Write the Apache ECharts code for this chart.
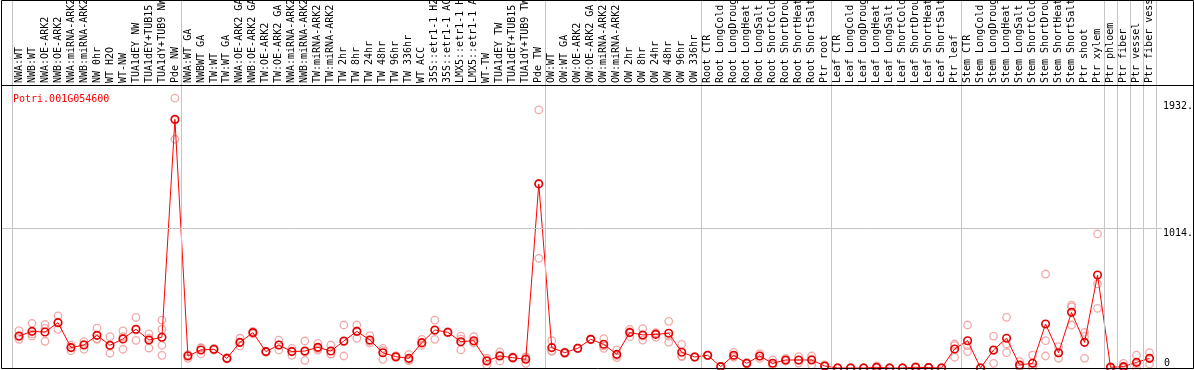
<!DOCTYPE html>
<html>
<head>
<meta charset="utf-8">
<script src="https://cdn.jsdelivr.net/npm/echarts@6/dist/echarts.min.js"></script>
<style>html,body{margin:0;padding:0;background:#fff}#c{width:1194px;height:370px}</style>
</head>
<body>
<div id="c"></div>
<script>
const geneName = 'Potri.001G054600';

const categories = [
'NWA:WT','NWB:WT','NWA:OE-ARK2','NWB:OE-ARK2','NWA:miRNA-ARK2','NWB:miRNA-ARK2','NW 0hr','WT H2O','WT-NW','TUA1dEY NW','TUA1dEY+TUB15','TUA1dY+TUB9 NW','Pde NW',
'NWA:WT GA','NWBWT GA','TW:WT','TW:WT GA','NWA:OE-ARK2 GA','NWB:OE-ARK2 GA','TW:OE-ARK2','TW:OE-ARK2 GA','NWA:miRNA-ARK2','NWB:miRNA-ARK2','TW:miRNA-ARK2','TW:miRNA-ARK2','TW 2hr','TW 8hr','TW 24hr','TW 48hr','TW 96hr','TW 336hr','WT ACC','35S::etr1-1 H2','35S::etr1-1 AC','LMX5::etr1-1 H','LMX5::etr1-1 A','WT-TW','TUA1dEY TW','TUA1dEY+TUB15','TUA1dY+TUB9 TW','Pde TW',
'OW:WT','OW:WT GA','OW:OE-ARK2','OW:OE-ARK2 GA','OW:miRNA-ARK2','OW:miRNA-ARK2','OW 2hr','OW 8hr','OW 24hr','OW 48hr','OW 96hr','OW 336hr',
'Root CTR','Root LongCold','Root LongDroug','Root LongHeat','Root LongSalt','Root ShortCold','Root ShortDrou','Root ShortHeat','Root ShortSalt','Ptr root',
'Leaf CTR','Leaf LongCold','Leaf LongDroug','Leaf LongHeat','Leaf LongSalt','Leaf ShortCold','Leaf ShortDrou','Leaf ShortHeat','Leaf ShortSalt','Ptr leaf',
'Stem CTR','Stem LongCold','Stem LongDroug','Stem LongHeat','Stem LongSalt','Stem ShortCold','Stem ShortDrou','Stem ShortHeat','Stem ShortSalt','Ptr shoot',
'Ptr xylem','Ptr phloem','Ptr fiber','Ptr vessel','Ptr fiber vess'
];

const meanValues = [
232,266,261,329,148,167,237,165,211,281,203,223,1805,
87,131,136,70,186,257,119,167,119,123,150,123,196,266,203,111,82,70,184,276,259,191,198,51,87,75,63,1336,
148,111,143,208,172,99,257,240,244,252,114,80,
92,10,92,34,87,34,58,58,58,15,
0,0,0,5,0,0,5,3,0,138,
198,0,131,216,22,34,319,111,404,186,
675,5,10,41,70
];

const replicateValues = [
[271,208,225],[324,232,247],[317,194,288],[378,281,329],[167,126,150],[191,136,172],[290,208,213],[227,107,160],[269,136,228],[368,201,275],[247,145,217],[348,281,165,92],[1958,1660,1797],
[70,95,96],[102,145,146],[130,140,138],[75,65,70],[216,160,182],[266,248,257],[119,115,123],[203,131,167],[143,92,122],[196,56,117],[179,130,141],[167,100,102],[312,87,189],[312,216,270],[235,180,194],[143,63,127],[90,75,81],[99,53,58],[208,165,179],[348,208,272],[255,263,259],[232,131,210],[227,180,187],[22,60,71],[116,51,94],[80,70,75],[34,75,80],[1873,796,1339],
[198,126,120],[116,104,113],[143,140,146],[208,205,211],[213,143,160],[131,90,76],[281,227,263],[286,203,231],[223,252,257],[339,186,231],[172,82,88],[80,78,82],
[92,90,94],[10,8,12],[114,78,84],[34,30,38],[104,70,87],[58,22,22],[70,50,54],[82,36,56],[87,22,65],[22,10,13],
[0,0,0],[0,0,0],[0,0,0],[15,0,0],[0,0,0],[0,0,0],[10,3,2],[5,2,2],[0,0,0],[174,78,162],
[312,119,163],[0,0,0],[232,34,127],[368,174,111],[46,10,10],[94,5,3],[682,198,87],[155,70,108],[457,312,443],[259,70,229],
[973,610,433],[5,0,10],[34,0,0],[94,0,29],[111,29,70]
];

const yTickValues = [1014, 1932];
const yZeroTick = [0];
const groupBoundaries = [0, 13, 41, 53, 63, 73, 84, 85, 86, 87, 88];

const FONT = 'DejaVu Sans Mono';
const xMin = -11 / 13;
const xMax = 88 + 6 / 13;
const yMax = 282 / 0.1378;

const meanData = meanValues.map((v, i) => [i + 0.5, v]);
const repData = [];
replicateValues.forEach((arr, i) => arr.forEach(v => repData.push([i + 0.5, v])));

const vLineStyle = { color: '#c4c4c4', width: 1, type: 'solid' };

const chart = echarts.init(document.getElementById('c'), null, { renderer: 'canvas' });
chart.setOption({
  animation: false,
  backgroundColor: '#fff',
  title: {
    text: geneName, left: 8, top: 89,
    textStyle: { color: '#ff0000', fontFamily: FONT, fontSize: 10, fontWeight: 'normal' }
  },
  grid: [
    { left: 1.5, right: 32, top: 86, bottom: 2, outerBoundsMode: 'none', containLabel: false },
    { left: 1.5, right: 32, top: 0, height: 86, outerBoundsMode: 'none', containLabel: false }
  ],
  xAxis: [
    {
      gridIndex: 0, type: 'value', min: xMin, max: xMax, position: 'top',
      axisLine: { show: false }, axisTick: { show: false }, splitLine: { show: false },
      axisLabel: {
        customValues: categories.map((_, i) => i + 0.5),
        formatter: v => categories[Math.round(v - 0.5)],
        rotate: 90, margin: 3, color: '#000', fontFamily: FONT, fontSize: 10
      }
    },
    { gridIndex: 1, type: 'value', min: xMin, max: xMax, show: false }
  ],
  yAxis: [
    {
      gridIndex: 0, type: 'value', min: 0, max: yMax, position: 'right',
      axisLine: { show: false }, axisTick: { show: false }, splitLine: { show: false },
      axisLabel: {
        customValues: yTickValues, formatter: v => v + '.',
        verticalAlign: 'top', margin: 1, color: '#000', fontFamily: FONT, fontSize: 10
      }
    },
    {
      gridIndex: 0, type: 'value', min: 0, max: yMax, position: 'right',
      axisLine: { show: false }, axisTick: { show: false }, splitLine: { show: false },
      axisLabel: {
        customValues: yZeroTick, formatter: v => String(v),
        verticalAlign: 'bottom', margin: 2, color: '#000', fontFamily: FONT, fontSize: 10
      }
    },
    { gridIndex: 1, type: 'value', min: 0, max: 1, show: false }
  ],
  series: [
    {
      type: 'line', xAxisIndex: 1, yAxisIndex: 2, data: [], silent: true,
      markLine: {
        silent: true, symbol: ['none', 'none'], label: { show: false }, lineStyle: vLineStyle,
        data: groupBoundaries.map(b => ({ xAxis: b }))
      }
    },
    {
      type: 'line', xAxisIndex: 0, yAxisIndex: 0, data: [], silent: true,
      markLine: {
        silent: true, symbol: ['none', 'none'], label: { show: false }, lineStyle: vLineStyle,
        data: groupBoundaries.map(b => ({ xAxis: b })).concat([{ yAxis: 1014 }])
      }
    },
    {
      type: 'scatter', xAxisIndex: 0, yAxisIndex: 0, data: repData,
      symbol: 'circle', symbolSize: 7.5,
      itemStyle: { color: 'rgba(0,0,0,0)', borderColor: '#ec9494', borderWidth: 1.3 }
    },
    {
      type: 'line', xAxisIndex: 0, yAxisIndex: 0, data: meanData,
      symbol: 'circle', symbolSize: 7.5, showAllSymbol: true,
      lineStyle: { color: '#ff0000', width: 1 },
      itemStyle: { color: 'rgba(0,0,0,0)', borderColor: '#e00000', borderWidth: 1.6 }
    }
  ],
  graphic: [
    { type: 'rect', silent: true, z: 100, shape: { x: 1.5, y: 0.5, width: 1192, height: 368 },
      style: { fill: 'none', stroke: '#000', lineWidth: 1 } },
    { type: 'line', silent: true, z: 100, shape: { x1: 1.5, y1: 85.5, x2: 1193.5, y2: 85.5 },
      style: { stroke: '#000', lineWidth: 1 } }
  ]
});
</script>
</body>
</html>
